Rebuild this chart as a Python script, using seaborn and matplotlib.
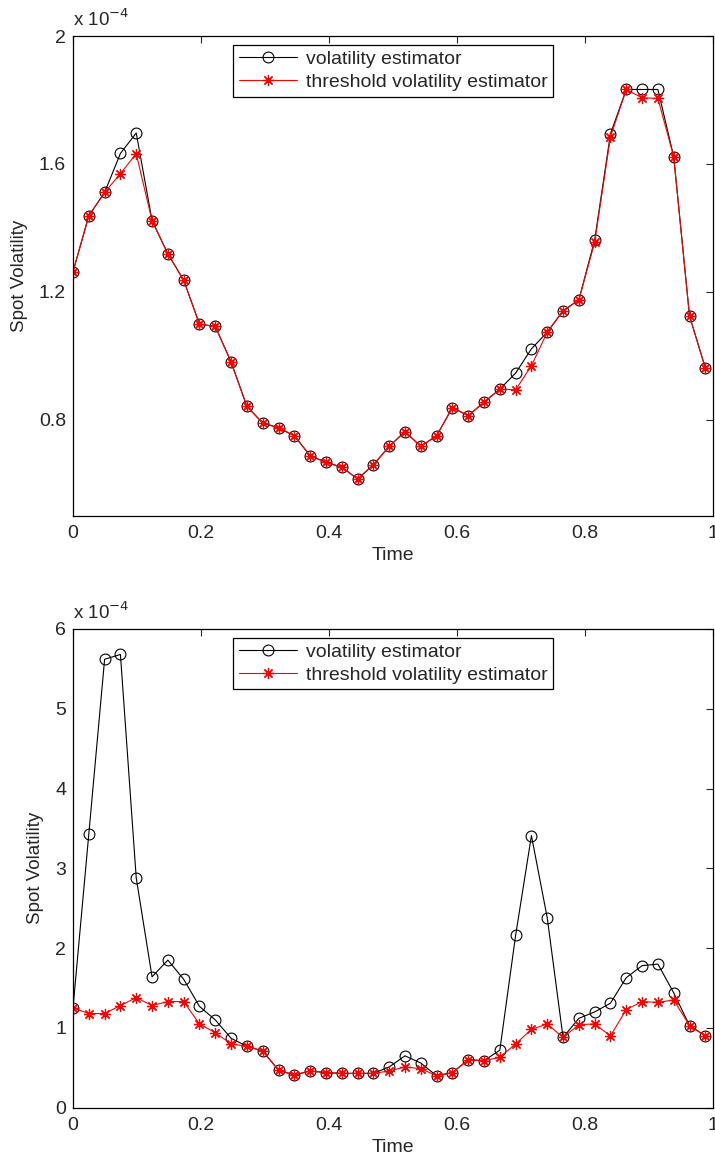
import numpy as np
import matplotlib
matplotlib.use("Agg")
import matplotlib.pyplot as plt
import seaborn as sns
from matplotlib.ticker import FuncFormatter

# ── data (spot volatility in units of 1e-4) ───────────────────────────────────
time = np.linspace(0, 0.988, 41)

vol_top = [1.263, 1.438, 1.511, 1.633, 1.697, 1.423, 1.319, 1.237, 1.099, 1.092,
           0.981, 0.842, 0.790, 0.775, 0.750, 0.688, 0.667, 0.652, 0.615, 0.659,
           0.717, 0.763, 0.717, 0.750, 0.838, 0.813, 0.855, 0.896, 0.946, 1.022,
           1.074, 1.141, 1.175, 1.362, 1.694, 1.833, 1.833, 1.833, 1.623, 1.125,
           0.962]
thr_top = [1.263, 1.438, 1.511, 1.570, 1.632, 1.423, 1.319, 1.237, 1.099, 1.092,
           0.981, 0.842, 0.790, 0.775, 0.750, 0.688, 0.667, 0.652, 0.615, 0.659,
           0.717, 0.763, 0.717, 0.750, 0.838, 0.813, 0.855, 0.896, 0.894, 0.969,
           1.074, 1.141, 1.175, 1.355, 1.685, 1.833, 1.807, 1.805, 1.623, 1.125,
           0.962]

vol_bot = [1.25, 3.43, 5.62, 5.68, 2.88, 1.64, 1.85, 1.61, 1.27, 1.10,
           0.87, 0.77, 0.71, 0.47, 0.41, 0.46, 0.44, 0.43, 0.43, 0.43,
           0.51, 0.65, 0.56, 0.40, 0.44, 0.60, 0.59, 0.72, 2.16, 3.41,
           2.38, 0.88, 1.12, 1.20, 1.31, 1.63, 1.78, 1.80, 1.44, 1.03,
           0.90]
thr_bot = [1.25, 1.18, 1.18, 1.28, 1.38, 1.28, 1.33, 1.33, 1.05, 0.94,
           0.80, 0.77, 0.71, 0.47, 0.41, 0.46, 0.44, 0.43, 0.43, 0.43,
           0.46, 0.51, 0.49, 0.40, 0.44, 0.60, 0.59, 0.63, 0.80, 0.98,
           1.05, 0.88, 1.04, 1.05, 0.90, 1.23, 1.33, 1.32, 1.35, 1.03,
           0.90]

labels = ["volatility estimator", "threshold volatility estimator"]
x_ticks = [0, 0.2, 0.4, 0.6, 0.8, 1]

# ── style ─────────────────────────────────────────────────────────────────────
sns.set_style("white")
plt.rcParams["font.family"] = ["Liberation Sans", "DejaVu Sans"]
plt.rcParams["font.size"] = 13
plt.rcParams["xtick.direction"] = "in"
plt.rcParams["ytick.direction"] = "in"

fig = plt.figure(figsize=(7.15, 11.6), dpi=100)
ax_top = fig.add_axes([0.1021, 0.5554, 0.8951, 0.4135])
ax_bot = fig.add_axes([0.1021, 0.0451, 0.8951, 0.4127])

star = (8, 2, 0)
fmt = FuncFormatter(lambda v, p: f"{v:g}")


def draw(ax, vol, thr, ylim, yticks):
    sns.lineplot(x=time, y=vol, ax=ax, color="black", lw=0.8, marker="o",
                 markersize=7.8, markerfacecolor="none", markeredgecolor="black",
                 markeredgewidth=0.8, label=labels[0])
    sns.lineplot(x=time, y=thr, ax=ax, color="red", lw=0.8, marker=star,
                 markersize=8, markeredgecolor="red", markeredgewidth=0.9,
                 label=labels[1])
    ax.set_xlim(0, 1)
    ax.set_ylim(*ylim)
    ax.set_xticks(x_ticks)
    ax.set_yticks(yticks)
    ax.xaxis.set_major_formatter(fmt)
    ax.yaxis.set_major_formatter(fmt)
    ax.tick_params(top=True, right=True, length=5, width=0.8, labelsize=14)
    ax.tick_params(axis="x", pad=7)
    ax.tick_params(axis="y", pad=5)
    for s in ax.spines.values():
        s.set_color("black")
        s.set_linewidth(0.9)
    ax.set_xlabel("Time", fontsize=14, labelpad=3)
    ax.set_ylabel("Spot Volatility", fontsize=13.5, labelpad=8)
    ax.text(0, 1.012, r"x 10$^{-4}$", transform=ax.transAxes, fontsize=13.5,
            ha="left", va="bottom")
    leg = ax.legend(loc="upper center", fancybox=False, edgecolor="black",
                    framealpha=1, handlelength=3.0, fontsize=14,
                    borderpad=0.3, labelspacing=0.25, handletextpad=0.45,
                    borderaxespad=0.45)
    leg.get_frame().set_linewidth(0.9)


draw(ax_top, vol_top, thr_top, (0.5, 2.0), [0.8, 1.2, 1.6, 2.0])
draw(ax_bot, vol_bot, thr_bot, (0, 6), [0, 1, 2, 3, 4, 5, 6])

fig.savefig("out.png", dpi=100, facecolor="white")
